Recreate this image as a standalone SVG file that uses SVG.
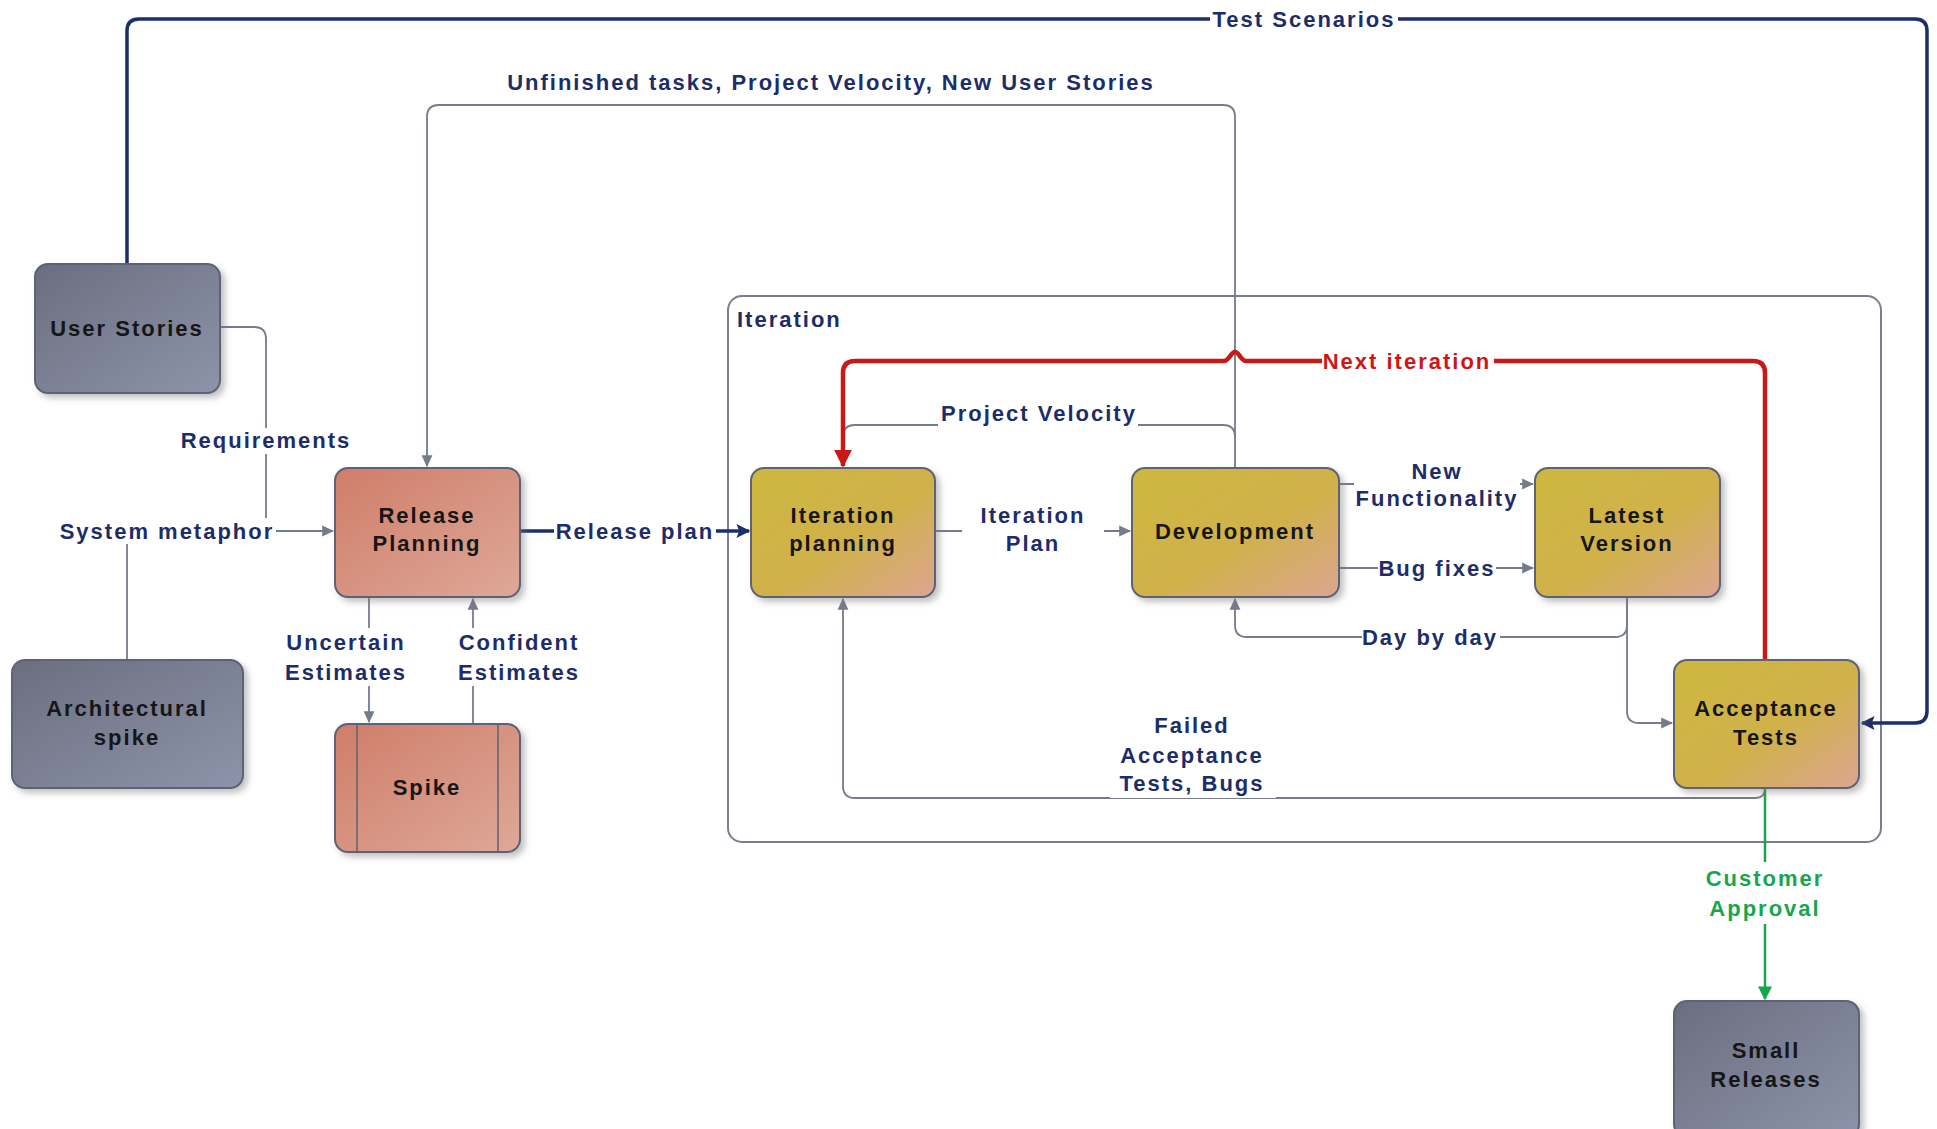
<svg xmlns="http://www.w3.org/2000/svg" width="1937" height="1129" viewBox="0 0 1937 1129">
<defs>
<linearGradient id="gGray" x1="0" y1="0" x2="1" y2="1"><stop offset="0" stop-color="#6a6e7f"/><stop offset="1" stop-color="#8d93aa"/></linearGradient>
<linearGradient id="gSalmon" x1="0" y1="0" x2="1" y2="1"><stop offset="0" stop-color="#cf7d69"/><stop offset="1" stop-color="#dea898"/></linearGradient>
<linearGradient id="gGold" x1="0" y1="0" x2="1" y2="1"><stop offset="0" stop-color="#cdb83f"/><stop offset="0.55" stop-color="#d0b14a"/><stop offset="1" stop-color="#dca592"/></linearGradient>
<filter id="sh" x="-10%" y="-10%" width="130%" height="130%"><feDropShadow dx="4" dy="4" stdDeviation="3" flood-color="#777" flood-opacity="0.45"/></filter>
<marker id="aGray" markerUnits="userSpaceOnUse" markerWidth="12" markerHeight="12" viewBox="0 0 10 10" refX="9" refY="5" orient="auto"><path d="M0,0.5 L10,5 L0,9.5 Z" fill="#767b8c"/></marker>
<marker id="aNavy" markerUnits="userSpaceOnUse" markerWidth="14" markerHeight="14" viewBox="0 0 10 10" refX="9" refY="5" orient="auto"><path d="M0,0 L10,5 L0,10 L2,5 Z" fill="#1c2f6b"/></marker>
<marker id="aRed" markerUnits="userSpaceOnUse" markerWidth="18" markerHeight="18" viewBox="0 0 10 10" refX="9" refY="5" orient="auto"><path d="M0,0 L10,5 L0,10 Z" fill="#c81818"/></marker>
<marker id="aGreen" markerUnits="userSpaceOnUse" markerWidth="14" markerHeight="14" viewBox="0 0 10 10" refX="9" refY="5" orient="auto"><path d="M0,0 L10,5 L0,10 Z" fill="#18a64c"/></marker>
</defs>
<style>
.node{stroke:#5e6273;stroke-width:2;filter:url(#sh)}
.nt{font-family:"Liberation Sans",Arial,sans-serif;font-weight:bold;font-size:22px;letter-spacing:2px;fill:#161616;text-anchor:middle;dominant-baseline:central}
.lb{font-family:"Liberation Sans",Arial,sans-serif;font-weight:bold;font-size:22px;letter-spacing:2px;fill:#1c2d69;text-anchor:middle;dominant-baseline:central}
.thin{fill:none;stroke:#767b8c;stroke-width:1.8}
.navy{fill:none;stroke:#1c2f6b;stroke-width:3.5}
.red{fill:none;stroke:#c81818;stroke-width:4.5}
.green{fill:none;stroke:#18a64c;stroke-width:2.5}
.bg{fill:#ffffff}
</style>
<rect width="1937" height="1129" fill="#ffffff"/>

<g id="iteration-container">
<rect x="728" y="296" width="1153" height="546" rx="14" fill="none" stroke="#7a7f90" stroke-width="2"/>
<text class="lb" x="737" y="319" style="text-anchor:start">Iteration</text>
</g>

<g id="connectors">
<path class="navy" d="M127,264 V31 Q127,19 139,19 H1915 Q1927,19 1927,31 V711 Q1927,723 1915,723 H1862" marker-end="url(#aNavy)"/>
<path class="thin" d="M1235,468 V117 Q1235,105 1223,105 H439 Q427,105 427,117 V466" marker-end="url(#aGray)"/>
<path class="thin" d="M1235,437 Q1235,425 1223,425 H855 Q843,425 843,437 V466"/>
<path class="red" d="M1765,660 V373 Q1765,361 1753,361 H1246 C1241,361 1239,352 1235,352 C1231,352 1229,361 1224,361 H855 Q843,361 843,373 V466" marker-end="url(#aRed)"/>
<path class="navy" d="M520,531 H749" marker-end="url(#aNavy)"/>
<path class="thin" d="M220,327 H254 Q266,327 266,339 V531"/>
<path class="thin" d="M127,660 V531 H333" marker-end="url(#aGray)"/>
<path class="thin" d="M369,597 V722" marker-end="url(#aGray)"/>
<path class="thin" d="M473,724 V599" marker-end="url(#aGray)"/>
<path class="thin" d="M935,531 H1130" marker-end="url(#aGray)"/>
<path class="thin" d="M1339,484 H1533" marker-end="url(#aGray)"/>
<path class="thin" d="M1339,568 H1533" marker-end="url(#aGray)"/>
<path class="thin" d="M1627,597 V625 Q1627,637 1615,637 H1247 Q1235,637 1235,625 V599" marker-end="url(#aGray)"/>
<path class="thin" d="M1627,597 V711 Q1627,723 1639,723 H1672" marker-end="url(#aGray)"/>
<path class="thin" d="M1765,788 Q1765,798 1755,798 H855 Q843,798 843,786 V599" marker-end="url(#aGray)"/>
<path class="green" d="M1765,788 V999" marker-end="url(#aGreen)"/>
</g>

<g id="labels">
<rect class="bg" x="1210" y="8" width="188" height="24"/>
<text class="lb" x="1304" y="19">Test Scenarios</text>
<text class="lb" x="831" y="82">Unfinished tasks, Project Velocity, New User Stories</text>
<rect class="bg" x="178" y="428" width="176" height="26"/>
<text class="lb" x="266" y="440">Requirements</text>
<rect class="bg" x="56" y="518" width="220" height="26"/>
<text class="lb" x="167" y="531">System metaphor</text>
<rect class="bg" x="554" y="518" width="162" height="26"/>
<text class="lb" x="635" y="531">Release plan</text>
<rect class="bg" x="282" y="628" width="128" height="58"/>
<text class="lb" x="346" y="642">Uncertain</text>
<text class="lb" x="346" y="672">Estimates</text>
<rect class="bg" x="455" y="628" width="128" height="58"/>
<text class="lb" x="519" y="642">Confident</text>
<text class="lb" x="519" y="672">Estimates</text>
<rect class="bg" x="962" y="500" width="142" height="58"/>
<text class="lb" x="1033" y="515">Iteration</text>
<text class="lb" x="1033" y="543">Plan</text>
<rect class="bg" x="938" y="400" width="200" height="26"/>
<text class="lb" x="1039" y="413">Project Velocity</text>
<rect class="bg" x="1354" y="458" width="166" height="54"/>
<text class="lb" x="1437" y="471">New</text>
<text class="lb" x="1437" y="498">Functionality</text>
<rect class="bg" x="1378" y="555" width="118" height="26"/>
<text class="lb" x="1437" y="568">Bug fixes</text>
<rect class="bg" x="1322" y="348" width="172" height="26"/>
<text class="lb" x="1407" y="361" style="fill:#d01515">Next iteration</text>
<rect class="bg" x="1362" y="624" width="138" height="26"/>
<text class="lb" x="1430" y="637">Day by day</text>
<rect class="bg" x="1110" y="710" width="166" height="88"/>
<text class="lb" x="1192" y="725">Failed</text>
<text class="lb" x="1192" y="755">Acceptance</text>
<text class="lb" x="1192" y="783">Tests, Bugs</text>
<rect class="bg" x="1700" y="862" width="130" height="62"/>
<text class="lb" x="1765" y="878" style="fill:#18a64c">Customer</text>
<text class="lb" x="1765" y="908" style="fill:#18a64c">Approval</text>
</g>

<g id="user-stories">
<rect class="node" x="35" y="264" width="185" height="129" rx="13" fill="url(#gGray)"/>
<text class="nt" x="127" y="328">User Stories</text>
</g>
<g id="architectural-spike">
<rect class="node" x="12" y="660" width="231" height="128" rx="13" fill="url(#gGray)"/>
<text class="nt" x="127" y="708">Architectural</text>
<text class="nt" x="127" y="737">spike</text>
</g>
<g id="release-planning">
<rect class="node" x="335" y="468" width="185" height="129" rx="13" fill="url(#gSalmon)"/>
<text class="nt" x="427" y="515">Release</text>
<text class="nt" x="427" y="543">Planning</text>
</g>
<g id="spike">
<rect class="node" x="335" y="724" width="185" height="128" rx="13" fill="url(#gSalmon)"/>
<line x1="357" y1="724" x2="357" y2="852" stroke="#5e6273" stroke-width="1.5"/>
<line x1="498" y1="724" x2="498" y2="852" stroke="#5e6273" stroke-width="1.5"/>
<text class="nt" x="427" y="787">Spike</text>
</g>
<g id="iteration-planning">
<rect class="node" x="751" y="468" width="184" height="129" rx="13" fill="url(#gGold)"/>
<text class="nt" x="843" y="515">Iteration</text>
<text class="nt" x="843" y="543">planning</text>
</g>
<g id="development">
<rect class="node" x="1132" y="468" width="207" height="129" rx="13" fill="url(#gGold)"/>
<text class="nt" x="1235" y="531">Development</text>
</g>
<g id="latest-version">
<rect class="node" x="1535" y="468" width="185" height="129" rx="13" fill="url(#gGold)"/>
<text class="nt" x="1627" y="515">Latest</text>
<text class="nt" x="1627" y="543">Version</text>
</g>
<g id="acceptance-tests">
<rect class="node" x="1674" y="660" width="185" height="128" rx="13" fill="url(#gGold)"/>
<text class="nt" x="1766" y="708">Acceptance</text>
<text class="nt" x="1766" y="737">Tests</text>
</g>
<g id="small-releases">
<rect class="node" x="1674" y="1001" width="185" height="136" rx="13" fill="url(#gGray)"/>
<text class="nt" x="1766" y="1050">Small</text>
<text class="nt" x="1766" y="1079">Releases</text>
</g>
</svg>
